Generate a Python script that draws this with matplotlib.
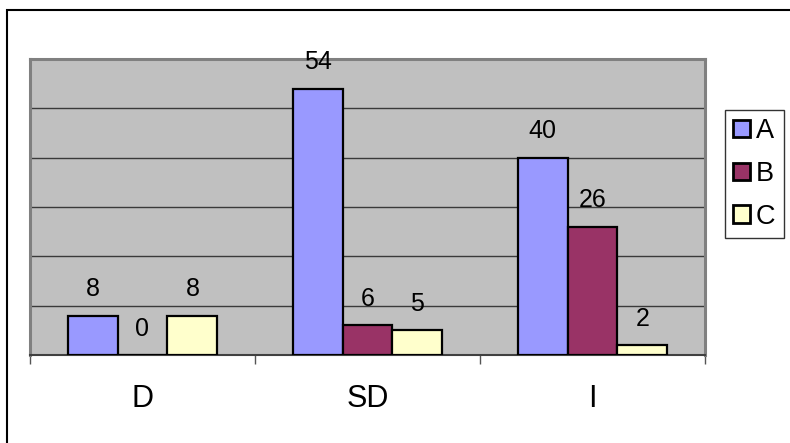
import matplotlib
matplotlib.use("Agg")
import matplotlib.pyplot as plt
from matplotlib.patches import Rectangle, Patch
import numpy as np

plt.rcParams['font.family'] = ['Liberation Sans', 'DejaVu Sans']

categories = ["D", "SD", "I"]
series_names = ["A", "B", "C"]
values_a = [8, 54, 40]
values_b = [0, 6, 26]
values_c = [8, 5, 2]
colors = ["#9999FF", "#993366", "#FFFFCC"]

W, H, DPI = 790, 443, 100
fig = plt.figure(figsize=(W / DPI, H / DPI), dpi=DPI)
fig.patch.set_facecolor("white")

# outer chart frame (runs past the right and bottom edges)
fig.patches.append(Rectangle((7 / W, -0.05), 1.1, 1 - 10 / H + 0.05,
                             transform=fig.transFigure, fill=False,
                             edgecolor="black", linewidth=1.5, zorder=0))

left, right, top, bottom = 30, 705, 59, 355
ax = fig.add_axes([left / W, 1 - bottom / H, (right - left) / W, (bottom - top) / H])
ax.set_facecolor("#C0C0C0")

x = np.arange(len(categories))
bw = 0.222
series = [values_a, values_b, values_c]
for i, (vals, col, name) in enumerate(zip(series, colors, series_names)):
    pos = x + (i - 1) * bw
    ax.bar(pos, vals, width=bw, color=col, edgecolor="black", linewidth=1.6,
           zorder=3, label=name)
    for px, v in zip(pos, vals):
        ax.annotate(str(v), (px, v), xytext=(0, 14), textcoords="offset points",
                    ha="center", va="baseline", fontsize=18, color="black",
                    annotation_clip=False, zorder=4)

ax.set_xlim(-0.5, 2.5)
ax.set_ylim(0, 60)
ax.set_yticks(np.arange(10, 60, 10))
ax.yaxis.grid(True, color="#3a3a3a", linewidth=1.0, zorder=1)
ax.tick_params(axis="y", left=False, labelleft=False)

ax.set_xticks(x)
ax.set_xticklabels(categories, fontsize=22)
ax.tick_params(axis="x", which="major", length=0, pad=21)
ax.set_xticks([-0.5, 0.5, 1.5, 2.5], minor=True)
ax.tick_params(axis="x", which="minor", length=6.5, width=1.0, color="#555555")

for s in ["left", "top", "right"]:
    ax.spines[s].set_color("#808080")
    ax.spines[s].set_linewidth(2.2)
ax.spines["bottom"].set_color("#404040")
ax.spines["bottom"].set_linewidth(1.5)

handles = [Patch(facecolor=c, edgecolor="black", linewidth=2.0) for c in colors]
leg = fig.legend(handles, series_names, loc="center left",
                 bbox_to_anchor=(725 / W, 1 - 174 / H), fontsize=19.5,
                 frameon=True, fancybox=False, handlelength=0.62,
                 handleheight=0.62, handletextpad=0.22, labelspacing=0.62,
                 borderpad=0.3, borderaxespad=0)
leg.get_frame().set_edgecolor("black")
leg.get_frame().set_linewidth(1.0)

fig.savefig("out.png", dpi=DPI)
